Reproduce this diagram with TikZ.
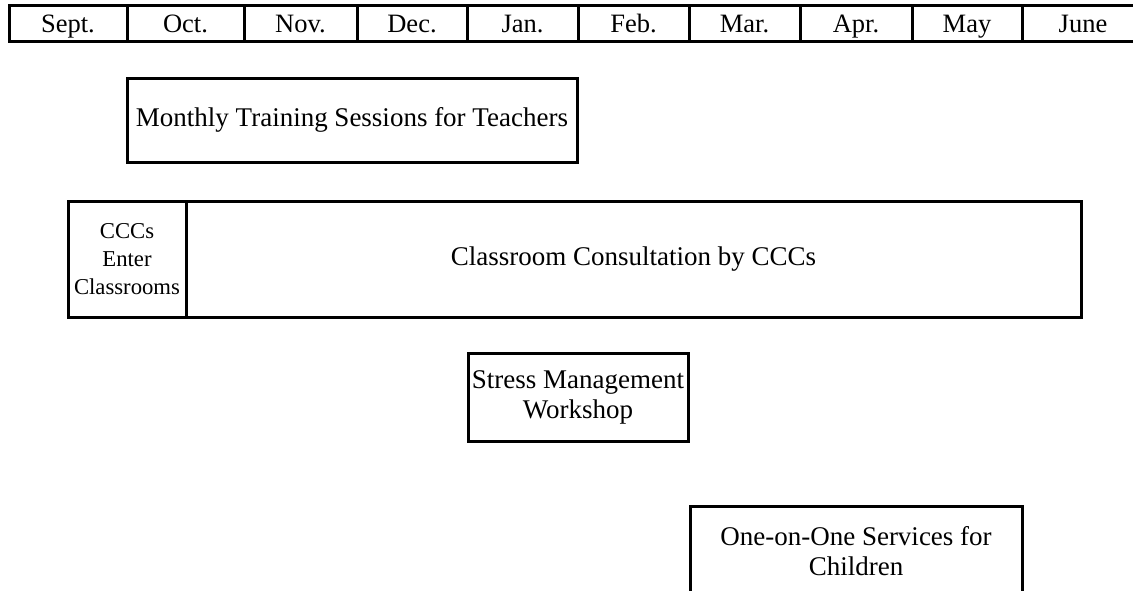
\documentclass[tikz,border=0pt]{standalone}
\usepackage{fontspec}
\setmainfont{Liberation Serif}
\begin{document}
\begin{tikzpicture}[x=1pt,y=-1pt]
			\tikzstyle{month}=[draw=black,line width=3pt,minimum height=36pt,inner sep=0pt,text height=21pt,text depth=3pt,font=\fontsize{26.5}{30}\selectfont]
			\tikzstyle{task}=[draw=black,line width=3pt,align=center,inner sep=0pt,font=\fontsize{27}{30}\selectfont]
			\tikzstyle{small}=[font=\fontsize{22.7}{28}\selectfont]
			\clip (0,0) rectangle (1133,590);
			
			\node[month,minimum width=118pt] (sept) at (68,23)    {Sept.};
			\node[month,minimum width=117pt] (oct)  at (185.5,23) {Oct.};
			\node[month,minimum width=113pt] (nov)  at (300.5,23) {Nov.};
			\node[month,minimum width=110pt] (dec)  at (412,23)   {Dec.};
			\node[month,minimum width=111pt] (jan)  at (522.5,23) {Jan.};
			\node[month,minimum width=111pt] (feb)  at (633.5,23) {Feb.};
			\node[month,minimum width=111pt] (mar)  at (744.5,23) {Mar.};
			\node[month,minimum width=112pt] (apr)  at (856,23)   {Apr.};
			\node[month,minimum width=110pt] (may)  at (967,23)   {May};
			\node[month,minimum width=122pt] (june) at (1083,23)  {June};
			
			\node[task,minimum width=450pt,minimum height=84pt] (training) at (352,120)
				{Monthly Training Sessions for Teachers};
			
			\node[task,minimum width=895pt,minimum height=116pt] (consult) at (633.5,259)
				{Classroom Consultation by CCCs};
			\node[task,small,minimum width=118pt,minimum height=116pt] (enter) at (127,259)
				{CCCs\\Enter\\Classrooms};
			
			\node[task,minimum width=220pt,minimum height=88pt] (stress) at (578,397)
				{Stress Management\\Workshop};
			
			\node[task,minimum width=332pt,minimum height=90pt] (oneonone) at (856,551)
				{One-on-One Services for\\Children};
\end{tikzpicture}
\end{document}
